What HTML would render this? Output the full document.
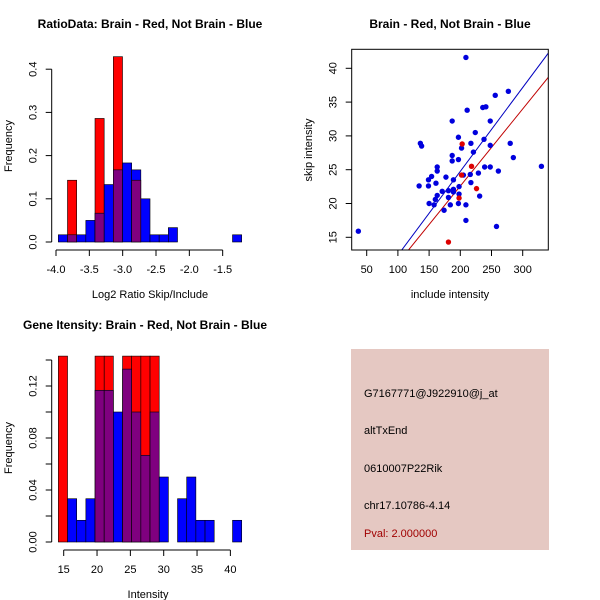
<!DOCTYPE html>
<html><head><meta charset="utf-8"><style>
html,body{margin:0;padding:0;background:#fff;}
svg{display:block;font-family:"Liberation Sans",sans-serif;}
</style></head><body>
<svg id="chart" width="600" height="600" viewBox="0 0 600 600" xmlns="http://www.w3.org/2000/svg">
<rect width="600" height="600" fill="#fff"/>
<text x="150" y="28" text-anchor="middle" font-size="12" font-weight="bold">RatioData: Brain - Red, Not Brain - Blue</text>
<text x="450" y="28" text-anchor="middle" font-size="12" font-weight="bold">Brain - Red, Not Brain - Blue</text>
<text x="145" y="329" text-anchor="middle" font-size="12" font-weight="bold">Gene Itensity: Brain - Red, Not Brain - Blue</text>
<text x="150" y="298" text-anchor="middle" font-size="11">Log2 Ratio Skip/Include</text>
<text transform="translate(12,146) rotate(-90)" text-anchor="middle" font-size="11">Frequency</text>
<text x="450" y="298" text-anchor="middle" font-size="11">include intensity</text>
<text transform="translate(312,150) rotate(-90)" text-anchor="middle" font-size="11">skip intensity</text>
<text x="148" y="598" text-anchor="middle" font-size="11">Intensity</text>
<text transform="translate(12,448) rotate(-90)" text-anchor="middle" font-size="11">Frequency</text>
<g>
<rect x="351" y="349" width="198" height="201" fill="#e5c8c2"/>
<text x="364" y="397" font-size="11">G7167771@J922910@j_at</text>
<text x="364" y="434" font-size="11">altTxEnd</text>
<text x="364" y="472" font-size="11">0610007P22Rik</text>
<text x="364" y="509" font-size="11">chr17.10786-4.14</text>
<text x="364" y="537" font-size="11" fill="#a00000">Pval: 2.000000</text>
</g>
</svg>
<script>
// ---- Ratio histogram data ----
const ratioBinStart = -3.965;
const ratioBinWidth = 0.1375;
const ratioBlue = [0.0167,0.0167,0.0167,0.05,0.0667,0.133,0.167,0.183,0.167,0.1,0.0167,0.0167,0.0333,0,0,0,0,0,0,0.0167];
const ratioRed  = [0,0.143,0,0,0.286,0,0.429,0,0.143,0,0,0,0,0,0,0,0,0,0,0];
const ratioXTicks = [-4.0,-3.5,-3.0,-2.5,-2.0,-1.5];
const ratioYTicks = [0.0,0.1,0.2,0.3,0.4];
// ---- Intensity histogram data ----
const intBinStart = 14.2;
const intBinWidth = 1.375;
const intBlue = [0,0.0333,0.0167,0.0333,0.1167,0.1167,0.1,0.133,0.1,0.0667,0.1,0.05,0,0.0333,0.05,0.0167,0.0167,0,0,0.0167];
const intRed  = [0.143,0,0,0,0.143,0.143,0,0.143,0.143,0.143,0.143,0,0,0,0,0,0,0,0,0];
const intXTicks = [15,20,25,30,35,40];
const intYTicks = [0,0.02,0.04,0.06,0.08,0.10,0.12,0.14];
const intYLabels = ["0.00","","0.04","","0.08","","0.12",""];
// ---- Scatter data ----
const blueX = [36.6,209,256,277,211,236,241,187,248,224,136,138,197,238,217,202,248,280,221,187,285,197,187,163,163,239,248,261,330,154,149,229,205,216,177,189,134,149,161,217,198,189,171,181,163,198,181,231,160,150,158,184,197,209,174,209,258,189];
const blueY = [15.9,41.6,36.0,36.6,33.8,34.2,34.3,32.2,32.2,30.5,28.9,28.5,29.8,29.5,28.9,28.2,28.6,28.9,27.6,27.1,26.8,26.5,26.3,25.4,24.8,25.4,25.4,24.8,25.5,24.0,23.5,24.5,24.2,24.3,23.9,23.5,22.6,22.6,23.0,23.1,22.5,22.1,21.8,21.9,21.2,21.4,20.9,21.1,20.6,20.0,19.8,19.8,20.0,19.8,19.0,17.5,16.6,21.7];
const redX = [203,218,226,198,181,202];
const redY = [28.8,25.5,22.2,20.8,14.3,24.2];
const blueLine = [0.124, 13.1 - 0.124*106];
const redLine = [0.114, 13.1 - 0.114*116.8];
const scXTicks = [50,100,150,200,250,300];
const scYTicks = [15,20,25,30,35,40];

const NS = "http://www.w3.org/2000/svg";
const svg = document.getElementById('chart');
function mk(tag, attrs, parent){const e=document.createElementNS(NS,tag);for(const k in attrs)e.setAttribute(k,attrs[k]);(parent||svg).appendChild(e);return e;}

const rx = v => 56 + (v + 4) * 66.67;
const ry = v => 242 - v * 432;
const ix = v => 63.7 + (v - 15) * 6.667;
const iy = v => 542 - v * 1300;
const sx = v => 366.7 + (v - 50) * 0.624;
const sy = v => 237.3 - (v - 15) * 6.76;

function hist(name, start, w, blue, red, xf, yf){
  const g = mk('g', {});
  
  
  for (let i=0;i<blue.length;i++){
    const x0 = xf(start + i*w), x1 = xf(start + (i+1)*w);
    const b = blue[i], r = red[i], lo = Math.min(b,r), hi = Math.max(b,r);
    if (hi <= 0) continue;
    const topCol = b > r ? '#0000ff' : '#ff0000';
    const t = mk('rect', {x:x0, y:yf(hi), width:x1-x0, height:yf(0)-yf(hi), fill:topCol, stroke:'#000', 'stroke-width':0.6}, g);
    
    
    if (lo > 0){
      const p = mk('rect', {x:x0, y:yf(lo), width:x1-x0, height:yf(0)-yf(lo), fill:'#7f007f', stroke:'#000', 'stroke-width':0.6}, g);
      
      
    }
  }
}
function xAxis(name, ticks, labels, xf, y){
  const g = mk('g', {stroke:'#000'});
  
  
  mk('line', {x1:xf(ticks[0]), x2:xf(ticks[ticks.length-1]), y1:y, y2:y}, g);
  ticks.forEach((t,i)=>{
    mk('line', {x1:xf(t), x2:xf(t), y1:y, y2:y+6}, g);
    const tx = mk('text', {x:xf(t), y:y+23, 'text-anchor':'middle', 'font-size':11, stroke:'none'}, g);
    tx.textContent = labels[i];
  });
}
function yAxis(name, ticks, labels, yf, x){
  const g = mk('g', {stroke:'#000'});
  
  
  mk('line', {y1:yf(ticks[0]), y2:yf(ticks[ticks.length-1]), x1:x, x2:x}, g);
  ticks.forEach((t,i)=>{
    mk('line', {y1:yf(t), y2:yf(t), x1:x, x2:x-6}, g);
    if (labels[i]){
      const tx = mk('text', {transform:`translate(${x-15},${yf(t)}) rotate(-90)`, 'text-anchor':'middle', 'font-size':11, stroke:'none'}, g);
      tx.textContent = labels[i];
    }
  });
}

hist('ratio-histogram', ratioBinStart, ratioBinWidth, ratioBlue, ratioRed, rx, ry);
xAxis('ratio-x-axis', ratioXTicks, ratioXTicks.map(v=>v.toFixed(1)), rx, 250);
yAxis('ratio-y-axis', ratioYTicks, ratioYTicks.map(v=>v.toFixed(1)), ry, 51.7);

hist('intensity-histogram', intBinStart, intBinWidth, intBlue, intRed, ix, iy);
xAxis('intensity-x-axis', intXTicks, intXTicks.map(String), ix, 550);
yAxis('intensity-y-axis', intYTicks, intYLabels, iy, 51.7);

const sg = mk('g', {});


const clip = mk('clipPath', {id:'scclip'}, sg);
mk('rect', {x:351.7, y:49.3, width:196.6, height:200.7}, clip);
const lg = mk('g', {'clip-path':'url(#scclip)'}, sg);
[[blueLine,'#0000c0','blue-fit-line'],[redLine,'#c00000','red-fit-line']].forEach(([ln,c,n])=>{
  const l = mk('line', {x1:sx(0), y1:sy(ln[1]), x2:sx(400), y2:sy(ln[0]*400+ln[1]), stroke:c, 'stroke-width':1}, lg);
  
  
});
blueX.forEach((x,i)=>{
  const c = mk('circle', {cx:sx(x), cy:sy(blueY[i]), r:2.7, fill:'#0000dd'}, lg);
  
  
});
redX.forEach((x,i)=>{
  const c = mk('circle', {cx:sx(x), cy:sy(redY[i]), r:2.7, fill:'#dd0000'}, lg);
  
  
});
const box = mk('rect', {x:351.7, y:49.3, width:196.6, height:200.7, fill:'none', stroke:'#000'}, sg);


const sxa = mk('g', {stroke:'#000'}, sg);


scXTicks.forEach(t=>{
  mk('line', {x1:sx(t), x2:sx(t), y1:250, y2:256}, sxa);
  const tx = mk('text', {x:sx(t), y:273, 'text-anchor':'middle', 'font-size':11, stroke:'none'}, sxa);
  tx.textContent = t;
});
const sya = mk('g', {stroke:'#000'}, sg);


scYTicks.forEach(t=>{
  mk('line', {y1:sy(t), y2:sy(t), x1:351.7, x2:345.7}, sya);
  const tx = mk('text', {transform:`translate(336.7,${sy(t)}) rotate(-90)`, 'text-anchor':'middle', 'font-size':11, stroke:'none'}, sya);
  tx.textContent = t;
});
</script>
</body></html>
